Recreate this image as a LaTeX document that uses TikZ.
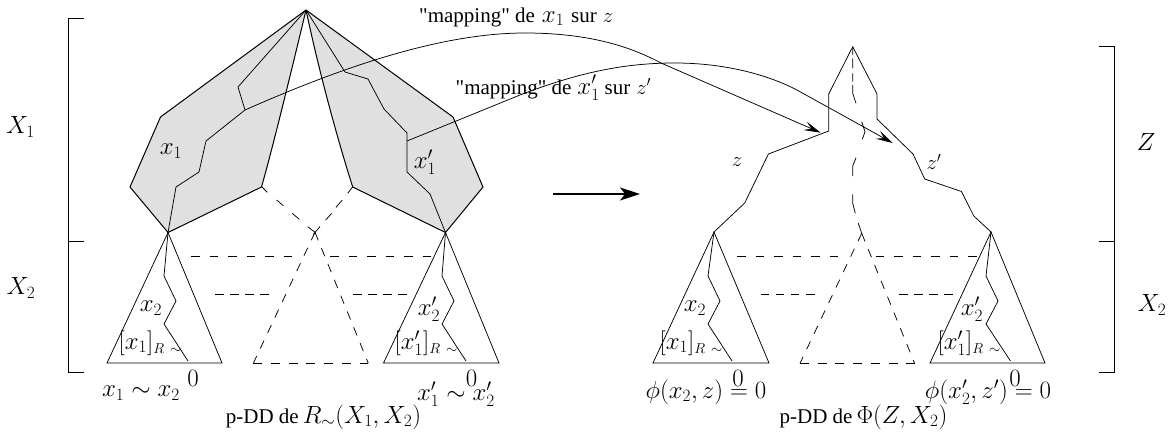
\documentclass[tikz,border=0pt]{standalone}
\usepackage[no-math]{fontspec}
\newfontfamily\tm{Liberation Serif}
\usetikzlibrary{arrows.meta}
\DeclareMathSizes{23.5}{23.5}{16.5}{12}
\DeclareMathSizes{21}{21}{15}{11}
\DeclareMathSizes{15.5}{15.5}{11}{8}
\newcommand{\txt}[1]{{\fontsize{21}{24}\selectfont\tm #1}}
\newcommand{\mth}[1]{{\fontsize{21}{24}\selectfont$#1$}}
\newcommand{\rsim}{\raisebox{-4.5pt}{\fontsize{15.5}{16}\selectfont$R\kern2pt\sim$}}
\tikzset{
  lbl/.style={inner sep=0pt,font=\fontsize{23.5}{26}\selectfont},
  thin line/.style={line width=0.75pt,line join=miter},
  plain dash/.style={line width=0.75pt},
  dash line/.style={line width=0.75pt,dash pattern=on 8.7pt off 8.4pt},
  base dash/.style={line width=0.75pt,dash pattern=on 9pt off 8.7pt},
  row one/.style={line width=0.75pt,dash pattern=on 8.7pt off 9.8pt},
  row two/.style={line width=0.75pt,dash pattern=on 8.7pt off 6.4pt},
  grayface/.style={fill=black!12,draw=black,line width=1pt,line join=miter},
  map arrow/.style={line width=0.75pt,-{Stealth[length=17pt,width=9pt,inset=7pt]}},
  big arrow/.style={line width=1.5pt,-{Stealth[length=20pt,width=13pt,inset=5pt]}},
  bracket/.style={line width=0.8pt},
}
\begin{document}
\begin{tikzpicture}[x=1pt,y=-1pt]
\useasboundingbox (0,0) rectangle (1172,432);
% brackets
\draw[bracket] (84,18) -- (68.5,18) -- (68.5,372) -- (84,372);
\draw[bracket] (68.5,241) -- (84,241);
\draw[bracket] (1099,46.5) -- (1114.5,46.5) -- (1114.5,372) -- (1099,372);
\draw[bracket] (1114.5,241) -- (1099,241);
% left gray
\coordinate (ap) at (306,10);
\coordinate (LT) at (168,232.5);
\coordinate (RT) at (445.5,232.5);
\filldraw[grayface] (ap) -- (160.5,117) -- (130,187) -- (LT) -- (261.5,187) .. controls (272,150) and (288,85) .. (ap);
\filldraw[grayface] (ap) -- (453,117) -- (483,187) -- (RT) -- (352.7,187) .. controls (341,150) and (322,85) .. (ap);
% paths in gray
\coordinate (m1) at (245,110);
\coordinate (m2) at (407,141);
\draw[thin line] (ap) -- (238,87) -- (m1) -- (206,141) -- (199,172) -- (176,187) -- (LT);
\draw[thin line] (ap) -- (345,72) -- (368,79) -- (384,109) -- (407,133) -- (407,172) -- (430,194) -- (RT);
% center dashes left
\coordinate (CA) at (315,232.3);
\draw[plain dash] (261.7,186.7) -- (267.3,192.3) (276.7,200) -- (283.3,205.7) (292.3,213.3) -- (299.3,219.3) (307.7,226.7) -- (CA);
\draw[plain dash] (352.7,186.7) -- (347.7,193.3) (342.3,200) -- (336,207.3) (331.7,213.3) -- (325.7,220) (320,226.7) -- (313.3,234.3);
% triangles left
\coordinate (CL) at (253.3,363.3);
\coordinate (CR) at (368.3,363.3);
\draw[thin line] (LT) -- (107,363) -- (222,363) -- cycle;
\draw[thin line] (RT) -- (383.5,363) -- (499,363) -- cycle;
\draw[dash line] (CA) -- (CL);
\draw[dash line] (CA) -- (CR);
\draw[base dash] (CL) -- (CR);
\draw[thin line] (LT) -- (164,276) -- (176,301) -- (164,324) -- (188,361);
\draw[thin line] (RT) -- (442,276) -- (454,301) -- (442,324) -- (466,361);
\draw[row one] (191,256) -- (292,256);
\draw[row one] (330,256) -- (432,256);
\draw[row two] (215,294.5) -- (269.5,294.5);
\draw[row two] (353,294.5) -- (408,294.5);
% right shape
\coordinate (ap2) at (852.7,46.7);
\coordinate (LT2) at (714,232);
\coordinate (RT2) at (991,232);
\coordinate (t1) at (820.7,132.7);
\coordinate (t2) at (892.7,143);
\draw[thin line] (ap2) -- (828.7,94) -- (828.7,131) -- (768.4,154) -- (744.7,203) -- (LT2);
\draw[thin line] (ap2) -- (877,94) -- (877,119) -- (913,154) -- (924.7,179) -- (961.5,191.5) -- (973.8,216) -- (RT2);
\coordinate (CA2) at (861.7,233.3);
\draw[plain dash] (ap2) -- (852.7,55) (852.7,58.3) -- (852.7,68.3) (852.7,73.3) -- (852.7,81.7) (852.7,85) -- (852.7,93.3) -- (856,103.3)
  (861.7,121.7) -- (865,131.7) -- (862.3,139.3) (856,157.7) -- (852.7,166) -- (852.7,176)
  (852.7,194.3) -- (852.7,203.3) -- (855.3,213.3) (858.3,223.3) -- (CA2);
\coordinate (DL) at (800,363.3);
\coordinate (DR) at (914.6,363.3);
\draw[thin line] (LT2) -- (653,363) -- (769,363) -- cycle;
\draw[thin line] (RT2) -- (930,363) -- (1045,363) -- cycle;
\draw[dash line] (CA2) -- (DL);
\draw[dash line] (CA2) -- (DR);
\draw[base dash] (DL) -- (DR);
\draw[thin line] (LT2) -- (708,276) -- (720,301) -- (708,324) -- (732,361);
\draw[thin line] (RT2) -- (986,276) -- (998,301) -- (986,324) -- (1010.5,361);
\draw[row one] (737,256) -- (839,256);
\draw[row one] (875.5,256) -- (977,256);
\draw[row two] (760.5,294.5) -- (815,294.5);
\draw[row two] (899,294.5) -- (954,294.5);
% mapping arrows
\draw[map arrow] (m1) .. controls (340,68) and (440,33) .. (525,33) .. controls (600,33) and (640,52) .. (661,63) -- (t1);
\draw[map arrow] (m2) -- (520,95) .. controls (580,72) and (625,63) .. (675,63) .. controls (725,63) and (770,75) .. (800,91.7) -- (t2);
\coordinate (ba) at (552.5,194);
\coordinate (bb) at (640,194);
\draw[big arrow] (ba) -- (bb);
% labels
\node[lbl] (a1) at (20.5,127) {$X_1$};
\node[lbl] (a2) at (21,288) {$X_2$};
\node[lbl] (a3) at (1146,142) {$Z$};
\node[lbl] (a4) at (1152,305) {$X_2$};
\node[lbl,anchor=base west] (m3) at (419,22) {\txt{"mapping" de}\hspace{7pt}$x_1$\hspace{7pt}\txt{sur}\hspace{6pt}\mth{z}};
\node[lbl,anchor=base west] (m4) at (455.5,94) {\txt{"mapping" de}\hspace{6pt}$x_1'$\hspace{5pt}\txt{sur}\hspace{6pt}\mth{z'}};
\node[lbl] (b1) at (171,151) {$x_1$};
\node[lbl] (b2) at (425,162) {$x_1'$};
\node[lbl] (b3) at (151,308) {$x_2$};
\node[lbl] (b4) at (429,309) {$x_2'$};
\node[lbl] (b5) at (150,343) {$[x_1]$\rsim};
\node[lbl] (b6) at (426,343) {$[x_1']$\rsim};
\node[lbl] (b7) at (193,378) {$0$};
\node[lbl] (b8) at (471.5,378) {$0$};
\node[lbl] (b9) at (141,393) {$x_1\sim x_2$};
\node[lbl] (b10) at (456,394) {$x_1'\sim x_2'$};
\node[lbl,anchor=base] (b11) at (323.5,423) {\txt{p-DD de}\hspace{4pt}$R_\sim(X_1,X_2)$};
\node[lbl] (c0) at (737,162) {\mth{z}};
\node[lbl] (c00) at (934,162) {\mth{z'}};
\node[lbl] (c3) at (695,308) {$x_2$};
\node[lbl] (c4) at (972,309) {$x_2'$};
\node[lbl] (c5) at (691,343) {$[x_1]$\rsim};
\node[lbl] (c6) at (969,343) {$[x_1']$\rsim};
\node[lbl] (c7) at (738,378) {$0$};
\node[lbl] (c8) at (1015,378) {$0$};
\node[lbl] (c9) at (706,392) {$\phi(x_2,z)=0$};
\node[lbl] (c10) at (988,392) {$\phi(x_2',z')=0$};
\node[lbl,anchor=base] (c11) at (863.5,423) {\txt{p-DD de}\hspace{4pt}$\Phi(Z,X_2)$};
\end{tikzpicture}
\end{document}
